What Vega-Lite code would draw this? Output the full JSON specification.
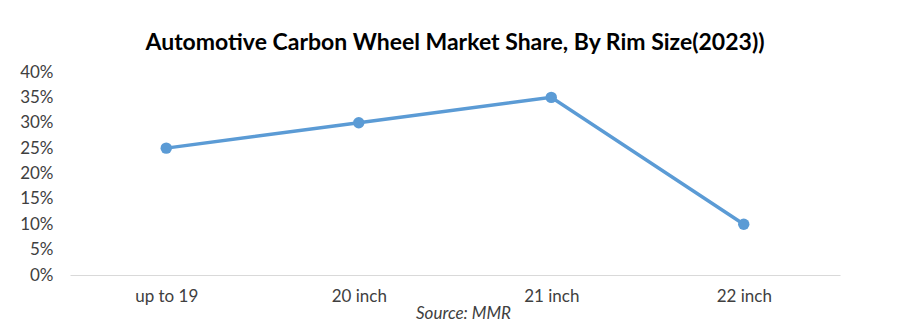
{
  "$schema": "https://vega.github.io/schema/vega-lite/v6.json",
  "width": 770,
  "height": 203,
  "autosize": {"type": "none"},
  "padding": {"left": 70, "top": 72, "right": 79, "bottom": 61},
  "background": "white",
  "config": {"view": {"stroke": null}, "font": "Lato"},
  "title": {
    "text": "Automotive Carbon Wheel Market Share, By Rim Size(2023))",
    "font": "Lato",
    "fontSize": 23,
    "fontWeight": "bold",
    "color": "#000000",
    "anchor": "middle",
    "offset": 8
  },
  "data": {
    "values": [
      {"rim": "up to 19", "share": 0.25},
      {"rim": "20 inch", "share": 0.30},
      {"rim": "21 inch", "share": 0.35},
      {"rim": "22 inch", "share": 0.10}
    ]
  },
  "mark": {"type": "line", "color": "#5B9BD5", "strokeWidth": 3.5, "point": {"color": "#5B9BD5", "size": 130, "filled": true, "opacity": 1}},
  "encoding": {
    "x": {
      "field": "rim",
      "type": "nominal",
      "sort": null,
      "scale": {"type": "point", "padding": 0.5},
      "axis": {
        "title": "Source: MMR",
        "titleFont": "Lato",
        "titleFontStyle": "italic",
        "titleFontWeight": "normal",
        "titleFontSize": 17,
        "titleColor": "#404040",
        "titlePadding": 1,
        "titleX": 393,
        "labelAngle": 0,
        "labelFont": "Lato",
        "labelFontSize": 17,
        "labelColor": "#404040",
        "labelPadding": 13,
        "ticks": false,
        "domainColor": "#d9d9d9",
        "domainWidth": 1,
        "grid": false
      }
    },
    "y": {
      "field": "share",
      "type": "quantitative",
      "scale": {"domain": [0, 0.4]},
      "axis": {
        "title": null,
        "format": ".0%",
        "values": [0, 0.05, 0.1, 0.15, 0.2, 0.25, 0.3, 0.35, 0.4],
        "labelFont": "Lato",
        "labelFontSize": 17,
        "labelColor": "#404040",
        "labelPadding": 17,
        "ticks": false,
        "domain": false,
        "grid": false
      }
    }
  }
}
